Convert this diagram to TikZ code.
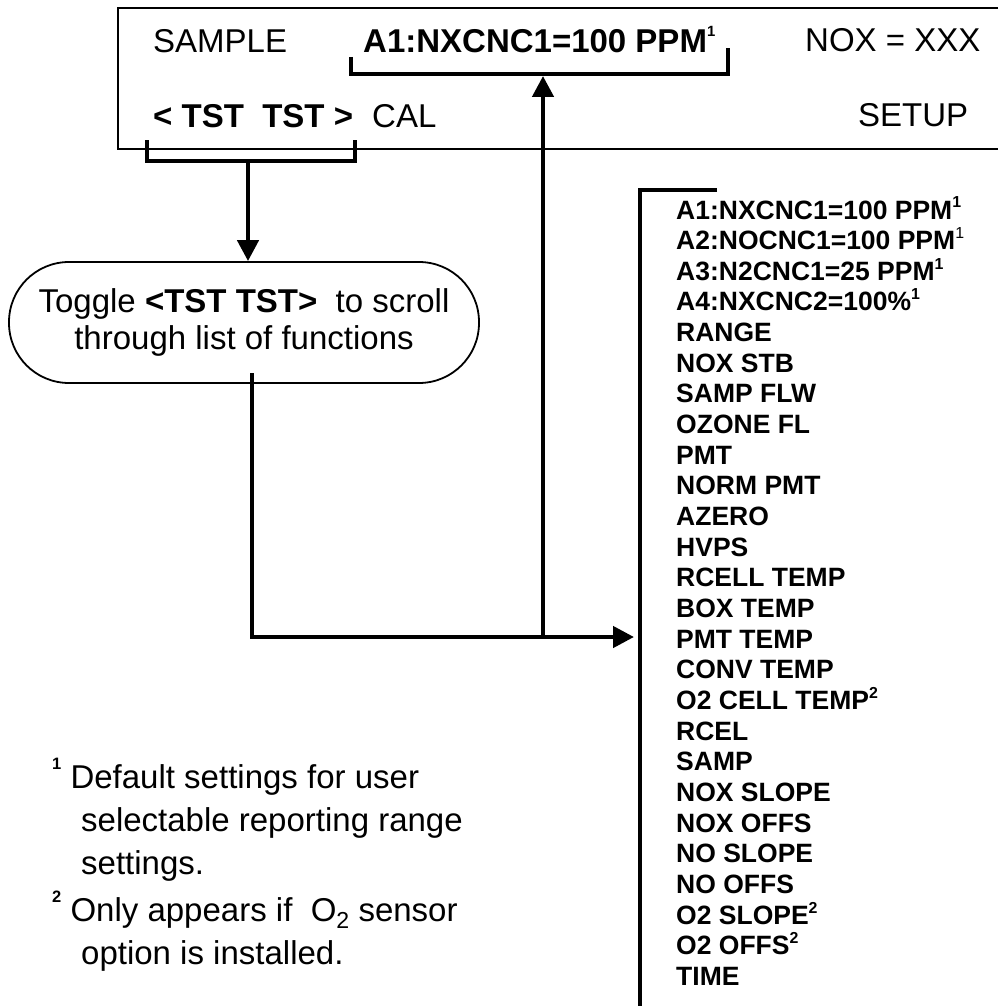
\documentclass[tikz,border=0pt]{standalone}
\usepackage{fontspec}
\setmainfont{Liberation Sans}
\usepackage{graphicx}
\usetikzlibrary{arrows.meta}
\newcommand\supx[3]{\raisebox{#1}{\scalebox{#2}{#3}}}
\newcommand\lsup[1]{\supx{.42em}{.6}{#1}}
\begin{document}
\begin{tikzpicture}[x=1pt,y=-1pt,
  toptxt/.style={anchor=base west, inner sep=0, font=\fontsize{33}{40}\selectfont},
  topbold/.style={anchor=base west, inner sep=0, font=\fontsize{33}{40}\selectfont\bfseries},
  brk/.style={line width=3.5pt},
  conn/.style={line width=4.5pt},
  arr/.style={conn, -{Triangle[length=21pt,width=21pt]}},
  item/.style={anchor=base west, inner sep=0, font=\fontsize{26.5}{30}\selectfont\bfseries},
  note/.style={anchor=base west, inner sep=0, font=\fontsize{33}{40}\selectfont}]
\useasboundingbox (0,0) rectangle (998,1006);
\fill[white] (0,0) rectangle (998,1006);

% display box (open on the right)
\draw[line width=1.6pt] (998,8) -- (118,8) -- (118,149) -- (998,149);

% top row texts
\node[toptxt] (sample) at (153,53) {SAMPLE};
\node[topbold] (a1top) at (363,53) {A1:NXCNC1=100 PPM\supx{.5em}{.45}{1}};
\node[toptxt] (nox) at (805,52) {NOX = XXX};
\node[topbold] (tst) at (153,128) {<~TST~~TST~>};
\node[toptxt] (cal) at (372,128) {CAL};
\node[toptxt] (setup) at (858,127) {SETUP};

% brackets
\draw[brk] (351,57) -- (351,74) -- (728,74) -- (728,48);
\draw[brk] (147,140) -- (147,161) -- (355,161) -- (355,140);
\coordinate (a1b) at (543,76);
\coordinate (tstmid) at (248,161);

% toggle box
\node[draw, line width=1.8pt, rounded corners=60pt, minimum width=470pt, minimum height=121pt,
      align=center, inner sep=0, font=\fontsize{33}{37}\selectfont] (toggle) at (244,322.5)
  {Toggle \textbf{<TST TST>}~~to scroll\\through list of functions};

\draw[arr] (tstmid) -- (toggle.north -| tstmid);

% connector to list
\coordinate (tgout) at (252,373);
\coordinate (corner) at (252,637);
\coordinate (junc) at (543,637);
\coordinate (listin) at (634,637);
\draw[conn] (tgout) -- (corner) -- (junc);
\draw[arr] (junc) -- (listin);
\draw[arr] (junc) -- (a1b);

% list bracket
\draw[line width=4pt] (717,190) -- (640,190) -- (640,1006);

% list items
\foreach \t [count=\i] in {
  {A1:NXCNC1=100 PPM\lsup{1}},
  {A2:NOCNC1=100 PPM\lsup{\mdseries 1}},
  {A3:N2CNC1=25 PPM\lsup{1}},
  {A4:NXCNC2=100\%\lsup{1}},
  RANGE, NOX STB, SAMP FLW, OZONE FL, PMT, NORM PMT, AZERO, HVPS,
  RCELL TEMP, BOX TEMP, PMT TEMP, CONV TEMP,
  {O2 CELL TEMP\lsup{2}},
  RCEL, SAMP, NOX SLOPE, NOX OFFS, NO SLOPE, NO OFFS,
  {O2 SLOPE\lsup{2}},
  {O2 OFFS\lsup{2}},
  TIME}
  \node[item] (l\i) at (676,{219+30.66*(\i-1)}) {\t};

% footnotes
\node[note] (fn1a) at (52,788) {\supx{.55em}{.5}{\textbf{1}} Default settings for user};
\node[note] (fn1b) at (81,831) {selectable reporting range};
\node[note] (fn1c) at (81,874) {settings.};
\node[note] (fn2a) at (52,921) {\supx{.55em}{.5}{\textbf{2}} Only appears if~~O\raisebox{-.22em}{\scalebox{.7}{2}} sensor};
\node[note] (fn2b) at (81,964) {option is installed.};
\end{tikzpicture}
\end{document}
